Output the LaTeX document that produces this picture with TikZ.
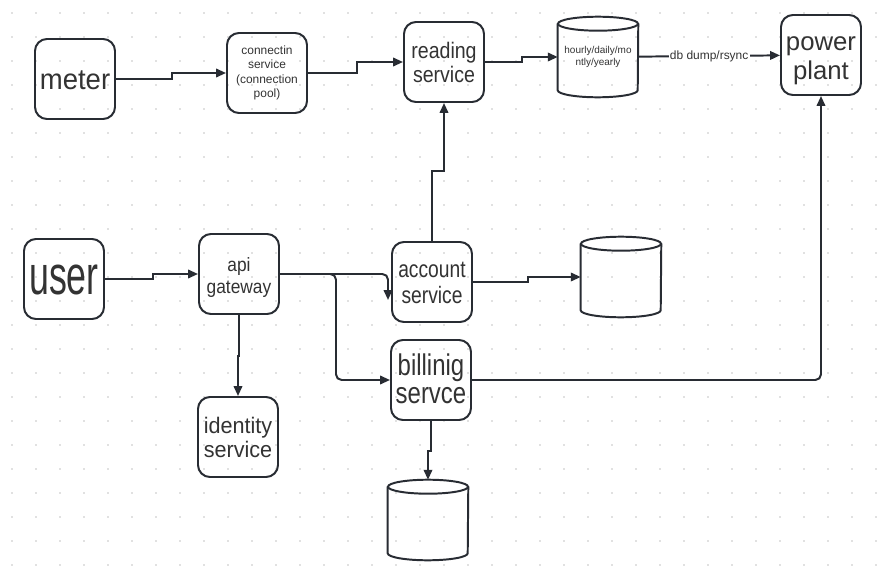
\documentclass[tikz,border=0pt]{standalone}
\usepackage{graphicx}
\usepackage{fontspec}
\setmainfont{Liberation Sans}
\usetikzlibrary{arrows.meta,calc}
\definecolor{ink}{HTML}{282C33}
\definecolor{txt}{HTML}{333333}
\definecolor{griddot}{HTML}{C4C4C4}
\tikzset{
    every node/.style={text=txt, align=center, inner sep=1pt}
}
\tikzset{
    box/.style={draw=ink, line width=1.4pt, rounded corners=0.3cm,
        minimum width=2cm, minimum height=2cm},
    store/.style={minimum width=2cm, minimum height=2cm, inner sep=0pt},
    storeline/.style={draw=ink, line width=1.4pt},
    link/.style={draw=ink, line width=1.4pt, -{Triangle[length=7pt,width=6pt]}}
}
\newcommand{\sz}[2]{\fontsize{#1}{#2}\selectfont}
% first line (a bit lower) and following lines, squeezed sideways
\newcommand{\tline}[2]{\rule{0pt}{\dimexpr0.7\baselineskip+5.7pt\relax}\strut\scalebox{#1}[1]{#2}}
\newcommand{\bline}[2]{\strut\scalebox{#1}[1]{#2}}
% cylinder outline round a store node
\newcommand{\drawstore}[1]{
	\draw[storeline] ($(#1.north)+(0,7)$) ellipse [x radius=40, y radius=7];
	\draw[storeline] ($(#1.north west)+(0,7)$) -- ($(#1.south west)+(0,-7)$)
		arc [start angle=180, end angle=0, x radius=40, y radius=7]
		-- ($(#1.north east)+(0,7)$);
}

\begin{document}
\begin{tikzpicture}[x=0.025cm, y=-0.025cm]
	\fill[white] (0,0) rectangle (884,572);
	\useasboundingbox (0,0) rectangle (884,572);
	% dotted grid
	\foreach \i in {0,...,36}
		\foreach \j in {0,...,23}
			\fill[griddot] (12+24*\i,13+24*\j) circle (0.6pt);

	\node (meter) [box, font=\sz{20.6}{21.6}] at (75,79) {\tline{0.95}{meter}};
	\node (conn) [box, font=\sz{8.5}{10.2}] at (267,73)
		{\strut connectin\\\strut service\\\strut (connection\\\strut pool)};
	\node (reading) [box, font=\sz{16}{17.2}] at (444,62)
		{\tline{0.87}{reading}\\\bline{0.87}{service}};
	\node (db1) [store, font=\sz{7.1}{9}] at (598,57) {\strut hourly/daily/mo\\\strut ntly/yearly};
	\node (power) [box, font=\sz{18.3}{20.6}] at (821,55)
		{\tline{1}{power}\\\bline{1}{plant}};
	\node (user) [box, font=\sz{39.1}{41}] at (64,279) {\tline{0.65}{user}};
	\node (api) [box, font=\sz{13.7}{15.5}] at (239,274)
		{\tline{0.9}{api}\\\bline{0.9}{gateway}};
	\node (account) [box, font=\sz{16.9}{16}] at (432,282)
		{\tline{0.81}{account}\\\bline{0.81}{service}};
	\node (db2) [store] at (621,277) {};
	\node (billing) [box, font=\sz{21.3}{20}] at (431,380)
		{\tline{0.8}{billinig}\\\bline{0.8}{servce}};
	\node (identity) [box, font=\sz{16}{17}] at (238,437)
		{\tline{0.96}{identity}\\\bline{0.96}{service}};
	\node (db3) [store] at (428,520) {};
	\drawstore{db1}
	\drawstore{db2}
	\drawstore{db3}

	\draw[link] (meter.east) -- ++(56,0) |- (conn);
	\draw[link] (conn.east) -- ++(49,0) |- (reading);
	\draw[link] (reading.east) -- ++(37,0) |- (db1);
	\draw[link] (db1) -- (power) node[midway, fill=white, font=\sz{8.5}{10}] {db dump/rsync};
	\draw[link] (user.east) -- ++(48,0) |- (api);
	\draw[link, rounded corners=4] (api.east) -| ($(account.west)+(-3,18)$);
	\draw[link, rounded corners=4] (api.east) -- ++(56,0) |- (billing);
	\draw[link] (api.south) -- ++(0,41) -| (identity);
	\draw[link] (account.north) -- ++(0,-70) -| (reading.south);
	\draw[link] (account.east) -- ++(55,0) |- (db2);
	\draw[link, rounded corners=4] (billing.east) -| (power);
	\draw[link] (billing.south) -- ++(0,30) -| (db3);
\end{tikzpicture}
\end{document}
